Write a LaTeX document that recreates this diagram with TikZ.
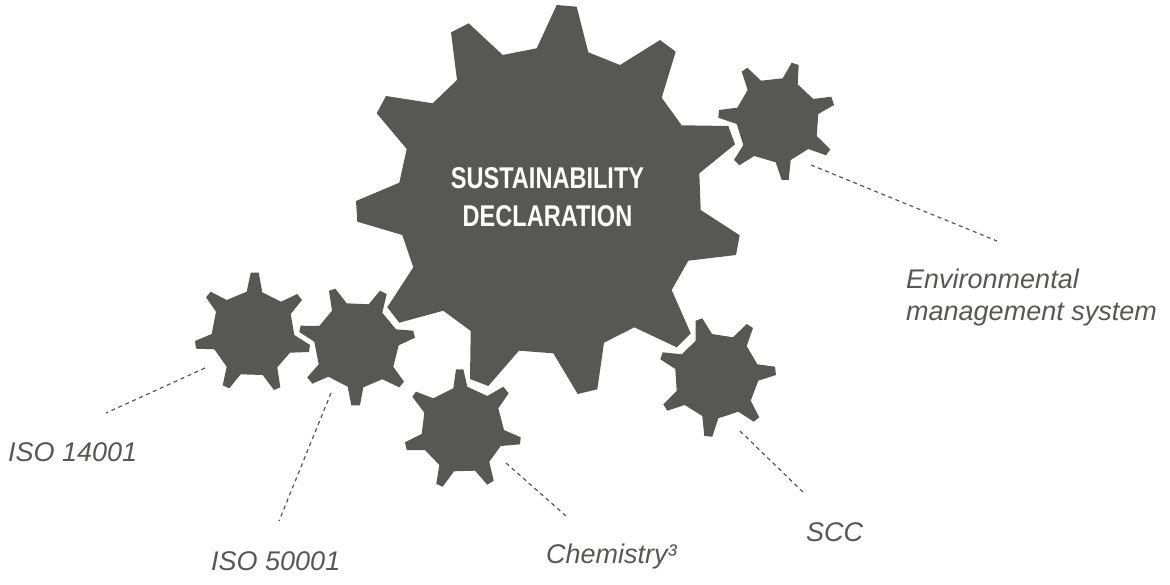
\documentclass[tikz,border=0pt]{standalone}
\usepackage{fontspec}
\setmainfont{Liberation Sans}
\newfontfamily\titlefont[FakeStretch=0.785]{Liberation Sans}
\definecolor{geargrey}{HTML}{575756}

\begin{document}
\begin{tikzpicture}[
        x=1pt, y=-1pt,
        gear/.style={fill=geargrey},
        title/.style={inner sep=0pt, align=center, text=white, font=\titlefont\bfseries\fontsize{30}{38}\selectfont},
        lbl/.style={inner sep=0pt, anchor=base west, align=left, text=geargrey, font=\itshape\fontsize{27}{32}\selectfont},
        lead/.style={draw=geargrey, line width=1.2pt, dash pattern=on 4pt off 3.6pt},
    ]
        \useasboundingbox (0,0) rectangle (1170,585);
        % large gear
        \fill[gear] (556.7,5) -- (576.7,6.7) -- (588.3,52.3) -- (620,65) -- (660,40) -- (675.7,51.7) -- (661.7,97.7) -- (681.7,125.3) -- (728.3,126) -- (735,144.3) -- (699.3,173.3) -- (700.7,210) -- (739.7,235.3) -- (736,255) -- (688.3,260.7) -- (671.7,290) -- (690.7,333.3) -- (676.7,347.3) -- (634.3,327.3) -- (604,342.7) -- (597.3,389.3) -- (577.7,394) -- (553.3,353.3) -- (519,350.7) -- (488.3,386) -- (470,379) -- (470.7,331) -- (443.3,310.7) -- (399.3,322.7) -- (387.3,307.3) -- (413.3,267.3) -- (402.3,235) -- (357.3,221.7) -- (356,201) -- (399.3,182.7) -- (406.7,149) -- (376.7,113.3) -- (386,96) -- (432.7,103.3) -- (457,80) -- (451,32.3) -- (468.7,23.3) -- (502.7,55) -- (536.7,48.3) -- cycle;
        % small gears
        \fill[gear] (741.7,71.7) -- (747.3,67.7) -- (761,80.7) -- (782.7,78.3) -- (791.7,62.7) -- (798.7,65) -- (797.7,84.3) -- (813.3,99) -- (831.3,96.7) -- (834,105) -- (818.3,114) -- (816.7,136) -- (830.3,149.3) -- (826,155.3) -- (808.3,149) -- (790.7,160) -- (788.7,180) -- (781.7,180) -- (775.7,162.3) -- (754.3,156) -- (739.3,165.3) -- (734,160) -- (743.3,145) -- (736.7,124) -- (718.3,117.7) -- (719,110) -- (737.3,107.7) -- (747.7,90) -- cycle;
        \fill[gear] (695.7,320.7) -- (702.3,318.3) -- (712,334) -- (733,337.3) -- (746.7,324) -- (753,328) -- (746.7,346) -- (757.3,364.3) -- (775,366.7) -- (776,375) -- (758.3,380.7) -- (750.7,400.7) -- (759.3,417.3) -- (753.7,421.7) -- (738.3,411.7) -- (718.3,418.3) -- (712.3,436.7) -- (704.3,436) -- (702.3,416) -- (684.7,405) -- (667.3,410.7) -- (663.3,404.3) -- (676.7,391) -- (675.3,369) -- (660.3,359.3) -- (662.7,352.3) -- (681.7,354.3) -- (695.7,340.7) -- cycle;
        \fill[gear] (456,369.3) -- (463.3,369.3) -- (467.3,386.7) -- (487.3,396) -- (503.3,386.7) -- (508.7,393.3) -- (498.3,408.3) -- (504,430) -- (520.7,437.3) -- (520,444.3) -- (500.7,446) -- (489.3,461.7) -- (493.7,480.7) -- (487.3,484.7) -- (475,470.7) -- (454,471.3) -- (442.7,486.7) -- (436.3,484) -- (439.3,465) -- (425,450) -- (406.7,450) -- (405,442.3) -- (421.7,434) -- (424.3,412.7) -- (412.3,396.7) -- (416,391.7) -- (433.3,398.3) -- (453.3,388.3) -- cycle;
        \fill[gear] (329,290.7) -- (335.3,288.7) -- (346.7,303.3) -- (368.7,304.3) -- (380,290.7) -- (386.7,294) -- (382.3,312.7) -- (396,329.3) -- (413.3,330.7) -- (415,337.7) -- (398.7,345.3) -- (393.3,366.7) -- (404,381.7) -- (399.3,387.3) -- (382.3,379.3) -- (363.3,387.3) -- (360,405.3) -- (351.3,405.3) -- (347.7,386.7) -- (328.3,376.7) -- (312.3,383.7) -- (307.3,377.3) -- (318.7,364.3) -- (314.3,341.7) -- (299.3,332) -- (300.7,325.7) -- (319.3,326) -- (332,310.7) -- cycle;
        \fill[gear] (250.7,272.7) -- (258.7,272.7) -- (262.3,292.3) -- (281,301.7) -- (297.3,294) -- (302,300) -- (290.7,314) -- (294.3,335) -- (310,345) -- (309,352) -- (290,352.7) -- (277.3,367.3) -- (280.3,387.3) -- (274,390) -- (262.7,375) -- (240.7,374.3) -- (229.3,388.3) -- (222.7,385.3) -- (226.7,366.7) -- (214.3,349.3) -- (196,348.7) -- (195,341) -- (211.7,334) -- (216,311.7) -- (206,297.3) -- (210.7,291.7) -- (226.7,300) -- (246.7,291.7) -- cycle;

        \node[title] (declaration) at (547.5,197) {SUSTAINABILITY\\DECLARATION};

        \node[lbl] (ems) at (906,320) {Environmental\\management system};
        \node[lbl] (scc) at (806,541) {SCC};
        \node[lbl] (chemistry) at (546,563) {Chemistry³};
        \node[lbl] (iso50001) at (211,570) {ISO 50001};
        \node[lbl] (iso14001) at (8,461) {ISO 14001};

        % leader lines
        \coordinate (ems-a) at (811,165);
        \coordinate (ems-b) at (997,241);
        \coordinate (scc-a) at (740,431);
        \coordinate (scc-b) at (805,494);
        \coordinate (chemistry-a) at (506,463);
        \coordinate (chemistry-b) at (566,516);
        \coordinate (iso50001-a) at (331,393);
        \coordinate (iso50001-b) at (279,521);
        \coordinate (iso14001-a) at (205,368);
        \coordinate (iso14001-b) at (106,413);
        \draw[lead] (ems-a) -- (ems-b);
        \draw[lead] (scc-a) -- (scc-b);
        \draw[lead] (chemistry-a) -- (chemistry-b);
        \draw[lead] (iso50001-a) -- (iso50001-b);
        \draw[lead] (iso14001-a) -- (iso14001-b);
    \end{tikzpicture}
\end{document}
